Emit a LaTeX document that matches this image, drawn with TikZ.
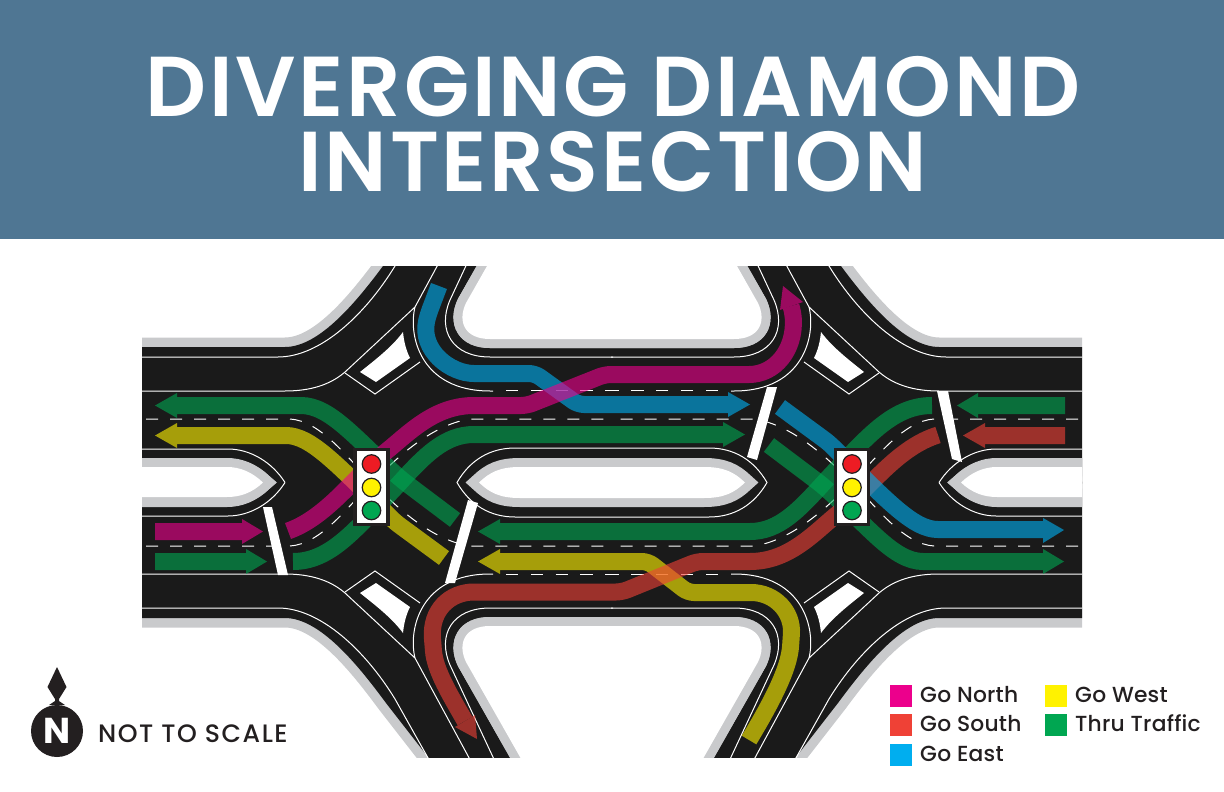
\documentclass[tikz,border=0pt]{standalone}
\usepackage{fontspec}
\setmainfont{Poppins}
\newfontfamily\titlefont[LetterSpace=3.2]{Poppins SemiBold}
\newfontfamily\labelfont[LetterSpace=1]{Poppins Medium}
\newfontfamily\scalefont[LetterSpace=6]{Poppins Medium}
\definecolor{banner}{HTML}{4F7693}
\definecolor{asphalt}{HTML}{1A1A1A}
\definecolor{shoulder}{HTML}{C9CACC}
\definecolor{inkdark}{HTML}{231F20}
\definecolor{cNorth}{HTML}{EC008C}
\definecolor{cSouth}{HTML}{EF4136}
\definecolor{cEast}{HTML}{00AEEF}
\definecolor{cWest}{HTML}{FFF200}
\definecolor{cThru}{HTML}{00A651}
\definecolor{cRed}{HTML}{ED1C24}
\newcommand\allfour[1]{#1
  \begin{scope}[shift={(1224,0)},xscale=-1] #1 \end{scope}
  \begin{scope}[shift={(0,965)},yscale=-1] #1 \end{scope}
  \begin{scope}[shift={(1224,965)},xscale=-1,yscale=-1] #1 \end{scope}}
\newcommand\rampedge{(100,347) -- (285,347) .. controls (320,347) and (358,300) .. (386,262) -- (428,208) -- (475,150)}
\newcommand\tophole{(553,150) -- (466,303) .. controls (457,322) and (465,339) .. (490,339) -- (734,339) .. controls (759,339) and (767,322) .. (758,303) -- (671,150) -- cycle}
\newcommand\lefthole{(100,468) -- (227,468) .. controls (240,468) and (252,472) .. (263,482.5) .. controls (252,493) and (240,498) .. (227,498) -- (100,498) -- cycle}
\newcommand\midhole{(479,482.5) .. controls (490,472) and (500,467) .. (520,467) -- (704,467) .. controls (724,467) and (734,472) .. (745,482.5) .. controls (734,493) and (724,498) .. (704,498) -- (520,498) .. controls (500,498) and (490,493) .. (479,482.5) -- cycle}
\tikzset{
  edgeline/.style={draw=white,line width=1pt},
  dashline/.style={draw=white,line width=1pt,dash pattern=on 12pt off 12pt},
  lane/.style={line width=17pt,rounded corners=6pt},
  movement/.style={transparency group,opacity=.61},
  stopbar/.style={fill=white},
  lamp/.style={circle,draw=inkdark,line width=1.2pt,minimum size=18.5pt,inner sep=0pt},
  swatch/.style={minimum size=22pt,inner sep=0pt},
  legendtext/.style={anchor=base west,inner sep=0pt,text=inkdark,font=\labelfont\fontsize{21.8}{22}\selectfont},
  titletext/.style={anchor=base,text=white,inner sep=0pt,font=\titlefont\fontsize{85}{85}\selectfont}
}
\begin{document}
\begin{tikzpicture}[x=1pt,y=-1pt]
\useasboundingbox (0,0) rectangle (1224,792);
\fill[banner] (0,0) rectangle (1224,239);
\node[titletext] (title1) at (613,116) {DIVERGING DIAMOND};
\node[titletext] (title2) at (613,191) {INTERSECTION};

\begin{scope}
\clip (142,266) rectangle (1082,757);
% shoulders and asphalt
\allfour{\draw[shoulder,line width=19pt] \rampedge;}
\allfour{\fill[asphalt] (100,483.5) -- \rampedge -- (613,150) -- (613,483.5) -- cycle;}
% holes
\allfour{\draw[shoulder,line width=18pt,miter limit=10] \tophole;\fill[white] \tophole;}
\allfour{\draw[shoulder,line width=18pt,miter limit=10] \lefthole;\fill[white] \lefthole;}
\draw[shoulder,line width=18pt,miter limit=10] \midhole;\fill[white] \midhole;
% splitter islands
\allfour{\fill[white] (360,372) .. controls (375,360) and (392,347) .. (403,332) .. controls (404,342) and (406,350) .. (410,358) -- (376,382) -- cycle;}
% edge lines
\allfour{
\draw[edgeline] (100,357) -- (278,357) .. controls (320,357) and (365,315) .. (395,266) -- (460,150);
\draw[edgeline] (100,391) -- (285,391) .. controls (310,391) and (330,385) .. (345,372) -- (415,307) -- (500,150);
\draw[edgeline] (345,373) -- (375,394) -- (420,362);
\draw[edgeline] (415,307) .. controls (408,335) and (420,391) .. (490,391) -- (493,391);
\draw[edgeline] (520,150) -- (450,300) .. controls (437,330) and (452,357) .. (490,357) -- (613,357);
\draw[dashline,dash pattern=on 12.3pt off 12.5pt] (506,390.5) -- (612,390.5);
\draw[edgeline] (100,449) -- (228,449) .. controls (250,449) and (272,462) .. (285,482.5);
\draw[dashline] (146,419) -- (290,419) .. controls (320,421) and (345,455) .. (372,482.5);
\draw[dashline] (372,482.5) .. controls (395,505) and (430,540) .. (470,546) -- (612,546);
}
\draw[edgeline] (457,482.5) .. controls (470,460) and (490,448) .. (515,448) -- (709,448) .. controls (734,448) and (754,460) .. (767,482.5) .. controls (754,505) and (734,517) .. (709,517) -- (515,517) .. controls (490,517) and (470,505) .. (457,482.5) -- cycle;
% stop bars
\fill[stopbar] (263,507) -- (272,507) -- (288,575) -- (278,575) -- cycle;
\fill[stopbar] (468,500) -- (478,503) -- (455,583) -- (445,583) -- cycle;
\fill[stopbar] (767,387) -- (777,387) -- (757,460) -- (747,457) -- cycle;
\fill[stopbar] (937,391) -- (948,391) -- (962,462) -- (952,459) -- cycle;

% yellow
\begin{scope}[movement]
\draw[cWest,lane] (444,558) -- (395,522) .. controls (335,462) and (310,435.5) .. (280,435.5) -- (177,435.5);
\fill[cWest] (155,435.5) -- (177,423) -- (177,448) -- cycle;
\end{scope}
\begin{scope}[movement]
\draw[cWest,lane] (500,561.5) -- (648,561.5) -- (688,592.5) -- (745,592.5) .. controls (775,592.5) and (793,612) .. (791,640) .. controls (789,670) and (770,705) .. (749,740);
\fill[cWest] (478,561.5) -- (500,549) -- (500,574) -- cycle;
\end{scope}
% green
\begin{scope}[movement]
\draw[cThru,lane] (455,520) -- (402,480) .. controls (355,438) and (330,405.5) .. (295,405.5) -- (177,405.5);
\fill[cThru] (155,405.5) -- (177,393) -- (177,418) -- cycle;
\end{scope}
\begin{scope}[movement]
\draw[cThru,lane] (155,561.5) -- (246,561.5);
\fill[cThru] (267,561.5) -- (246,549) -- (246,574) -- cycle;
\end{scope}
\begin{scope}[movement]
\draw[cThru,lane] (293,561.5) .. controls (330,561.5) and (355,530) .. (395,488) .. controls (425,455) and (445,434.5) .. (480,434.5) -- (723,434.5);
\fill[cThru] (745,434.5) -- (723,422) -- (723,447) -- cycle;
\end{scope}
\begin{scope}[movement]
\draw[cThru,lane] (932,405.5) .. controls (894,405.5) and (869,435) .. (829,477) .. controls (799,510) and (779,531.5) .. (744,531.5) -- (500,531.5);
\fill[cThru] (478,531.5) -- (500,519) -- (500,544) -- cycle;
\end{scope}
\begin{scope}[movement]
\draw[cThru,lane] (769,445) -- (822,485) .. controls (869,527) and (894,561.5) .. (929,561.5) -- (1043,561.5);
\fill[cThru] (1064,561.5) -- (1043,549) -- (1043,574) -- cycle;
\end{scope}
\begin{scope}[movement]
\draw[cThru,lane] (1065,405.5) -- (978,405.5);
\fill[cThru] (957,405.5) -- (978,393) -- (978,418) -- cycle;
\end{scope}
% red
\begin{scope}[movement]
\draw[cSouth,lane] (1065,435.5) -- (985,435.5);
\fill[cSouth] (963,435.5) -- (985,423) -- (985,448) -- cycle;
\end{scope}
\begin{scope}[movement]
\draw[cSouth,lane] (938,435) .. controls (899,447) and (872,485) .. (841,511) .. controls (814,533) and (789,561.5) .. (744,561.5) -- (697,561.5) -- (622,592) -- (480,592) .. controls (450,592) and (430,610) .. (433,645) .. controls (435,670) and (450,695) .. (465,721);
\fill[cSouth] (477,739) -- (455,727) -- (475,715) -- cycle;
\end{scope}
% blue
\begin{scope}[movement]
\draw[cEast,lane] (439,286) -- (428,315) .. controls (420,350) and (450,373.5) .. (480,373.5) -- (535,373.5) -- (578,404.5) -- (728,404.5);
\fill[cEast] (750,404.5) -- (728,392) -- (728,417) -- cycle;
\end{scope}
\begin{scope}[movement]
\draw[cEast,lane] (780,407) -- (829,443) .. controls (889,503) and (914,529.5) .. (944,529.5) -- (1043,529.5);
\fill[cEast] (1064,530) -- (1043,518) -- (1043,543) -- cycle;
\end{scope}
% magenta
\begin{scope}[movement]
\draw[cNorth,lane] (155,531.5) -- (242,531.5);
\fill[cNorth] (263,531.5) -- (242,519) -- (242,544) -- cycle;
\end{scope}
\begin{scope}[movement]
\draw[cNorth,lane] (288,531) .. controls (325,518) and (352,480) .. (383,454) .. controls (410,432) and (435,405.5) .. (480,405.5) -- (527,405.5) -- (605,374.5) -- (743,374.5) .. controls (775,374.5) and (795,350) .. (793,313) -- (791,306);
\fill[cNorth] (783,286) -- (780,310) -- (803,302) -- cycle;
\end{scope}
\end{scope}

% signals
\foreach \sx/\sn in {371.5/a,852/b}{
  \node[draw=inkdark,fill=white,line width=3.5pt,minimum width=33pt,minimum height=75pt,inner sep=0pt] (signal\sn) at (\sx,487) {};
  \node[lamp,fill=cRed] (red\sn) at (\sx,464) {};
  \node[lamp,fill=cWest] (yellow\sn) at (\sx,487.5) {};
  \node[lamp,fill=cThru] (green\sn) at (\sx,510.5) {};
}

% north mark
\fill[inkdark] (57,667) -- (66.5,687) -- (59,699) -- (59,701) -- (65,705) -- (49,705) -- (55,701) -- (55,699) -- (47.5,687) -- cycle;
\node[circle,fill=inkdark,minimum size=52pt,inner sep=0pt,text=white,font=\fontsize{36}{36}\selectfont\bfseries] (north) at (57,731) {N};
\node[anchor=base west,inner sep=0pt,text=inkdark,font=\scalefont\fontsize{25.2}{26}\selectfont] (scale) at (98,742) {NOT TO SCALE};

% legend
\node[swatch,fill=cNorth] (sw1) at (901,696) {};
\node[swatch,fill=cSouth] (sw2) at (901,725) {};
\node[swatch,fill=cEast] (sw3) at (901,755) {};
\node[swatch,fill=cWest] (sw4) at (1056,696) {};
\node[swatch,fill=cThru] (sw5) at (1056,725) {};
\node[legendtext] (lb1) at (920,702) {Go North};
\node[legendtext] (lb2) at (920,731) {Go South};
\node[legendtext] (lb3) at (920,761) {Go East};
\node[legendtext] (lb4) at (1075,702) {Go West};
\node[legendtext] (lb5) at (1075,731) {Thru Traffic};
\end{tikzpicture}
\end{document}
